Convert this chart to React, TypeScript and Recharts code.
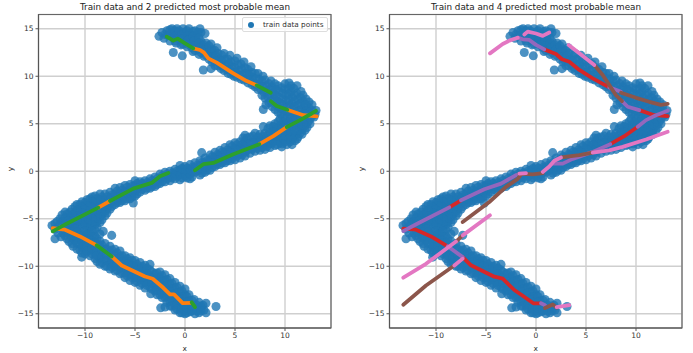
import { CartesianGrid, Legend, ReferenceArea, Scatter, ScatterChart, XAxis, YAxis, ZAxis } from 'recharts';

type Pt = [number, number];

const xTicks = [-10, -5, 0, 5, 10];
const yTicks = [-15, -10, -5, 0, 5, 10, 15];

// train data
const upperArm: Pt[] = [
  [-2.6,14.2],[-2.3,14.6],[-2.1,14.0],[-1.8,14.8],[-1.7,14.3],[-1.5,13.7],[-1.3,15],[-1.2,14.5],[-1.1,14.0],[-1.17,12.5],
  [-0.9,13.5],[-0.8,15],[-0.7,14.6],[-0.6,14.2],[-0.5,13.8],[-0.4,13.3],[-0.27,12.15],[-0.2,15],[-0.1,14.6],[0,14.1],
  [0.1,13.6],[0.2,13.1],[0.4,15],[0.5,14.5],[0.5,14],[0.6,13.5],[0.7,13],[0.8,12.6],[1,14.8],[1.1,14.3],
  [1.1,13.8],[1.2,13.3],[1.3,12.8],[1.4,12.3],[1.5,15],[1.6,14.6],[1.6,13.7],[1.7,13.2],[1.8,12.7],[1.9,12.1],
  [1.83,10.66],[2,14.5],[2.1,13.5],[2.2,13],[2.3,12.4],[2.4,11.8],[2.6,13.4],[2.7,12.8],[2.8,12.2],[2.9,11.6],
  [3,11.1],[2.6,10.8],[3.2,13],[3.3,12.4],[3.4,11.8],[3.5,11.3],[3.6,10.8],[3.9,12.4],[4,11.8],[4.1,11.2],
  [4.2,10.7],[4.3,10.3],[4.5,12.2],[4.6,11.5],[4.7,11],[4.8,10.4],[4.9,10],[5.2,11.9],[5.3,11.2],[5.4,10.6],
  [5.5,10.1],[5.6,9.7],[5.9,11.5],[6,10.9],[6.1,10.3],[6.2,9.8],[6.3,9.3],[6.6,11],[6.7,10.4],[6.8,9.9],
  [6.9,9.3],[7,8.9],[7.3,10.3],[7.4,9.7],[7.5,9.1],[7.6,8.6],[7.7,8],[7.8,10],[8,9.6],[8.1,9],
  [8.2,8.4],[8.3,7.8],[8.4,7.2],[8.6,9.5],[8.7,8.9],[8.8,8.3],[8.9,7.7],[9,7.1],[9,6.5],[9.3,9],
  [9.4,8.4],[9.4,7.8],[9.5,7.2],[9.6,6.6],[9.6,6],[10,9.2],[10,8.6],[10.1,8],[10.1,7.4],[10.2,6.8],
  [10.2,6.2],[10.6,9],[10.6,8.4],[10.7,7.8],[10.7,7.2],[10.8,6.6],[10.8,6],[11.2,9],[11.2,8.2],[11.3,7.6],
  [11.3,7],[11.4,6.4],[11.4,5.8],[11.8,8],[11.8,7.4],[11.9,6.8],[11.9,6.2],[12.4,7.3],[12.4,6.7],[12.5,6.1],
  [13,6],[13.1,6.4],[7.83,6.5],
];

const upperFill: Pt[] = [
  [-2,14.4],[-1.5,14.4],[-1.5,14.9],[-1,14.8],[-1,14.2],[-1,13.7],[-0.6,14.8],[-0.3,14.4],[-0.3,13.9],[-0.2,13.4],
  [0.2,14.8],[0.3,14.3],[0.3,13.8],[0.4,13.3],[0.8,14.7],[0.8,14.2],[0.9,13.7],[0.9,13.2],[1,12.7],[1.3,14.6],
  [1.4,14],[1.4,13.5],[1.5,13],[1.6,12.5],[1.9,13.3],[2,12.8],[2.1,12.2],[2.4,13.2],[2.5,12.6],[2.6,12],
  [2.7,11.5],[3,12.7],[3.1,12.1],[3.2,11.6],[3.3,11.1],[3.7,12.2],[3.7,11.6],[3.8,11],[3.9,10.6],[4.3,11.8],
  [4.4,11.3],[4.5,10.7],[4.6,10.2],[5,11.6],[5,10.9],[5.1,10.4],[5.2,9.9],[5.6,11.3],[5.7,10.7],[5.8,10.1],
  [5.9,9.6],[6.3,10.7],[6.4,10.1],[6.5,9.6],[6.7,9.1],[7,10.3],[7.1,9.7],[7.2,9.1],[7.3,8.6],[7.7,9.5],
  [7.8,8.9],[7.9,8.3],[8,7.7],[8.1,7],[8.4,9.2],[8.5,8.6],[8.5,8],[8.6,7.4],[8.7,6.8],[9,9.2],
  [9.1,8.6],[9.1,8],[9.2,7.4],[9.3,6.8],[9.3,6.2],[9.7,8.8],[9.8,8.2],[9.8,7.6],[9.9,7],[9.9,6.4],
  [9.9,5.8],[10.4,9.3],[10.4,8.7],[10.4,8.1],[10.4,7.5],[10.5,6.9],[10.5,6.3],[10.5,5.8],[10.9,8.7],[11,8],
  [11,7.4],[11,6.8],[11.1,6.2],[11.6,8.4],[11.6,7.7],[11.6,7.1],[11.7,6.5],[12.1,7.6],[12.1,7],[12.2,6.4],
  [12.7,7],[12.7,6.4],[12.8,5.9],
];

const middleArm: Pt[] = [
  [12.9,5.7],[12.5,5.5],[12.5,5],[12,6],[12,5.4],[12,4.8],[12,4.3],[11.5,5.8],[11.5,5.2],[11.5,4.6],
  [11.5,4],[11.3,3.6],[11,5.6],[11,5],[11,4.4],[11,3.8],[11,3.2],[10.5,5.5],[10.5,4.9],[10.5,4.3],
  [10.5,3.7],[10.5,3.1],[10,5.5],[10,4.9],[10,4.3],[10,3.7],[10,3.1],[9.67,2.56],[9.5,5.5],[9.5,4.8],
  [9.5,4.2],[9.5,3.6],[9.5,3],[9,5],[9,4.4],[9,3.8],[9,3.2],[9,2.7],[8.5,4.8],[8.5,4.1],
  [8.5,3.5],[8.5,2.9],[8.5,2.5],[7.83,4.7],[8,4],[8,3.4],[8,2.8],[8,2.3],[7.5,3.9],[7.5,3.3],
  [7.5,2.7],[7.5,2.2],[7,4],[7,3.3],[7,2.6],[7,2.1],[6.5,3.6],[6.5,3],[6.5,2.4],[6.5,1.9],
  [6,3.8],[6,3.2],[6,2.6],[6,2],[6,1.6],[5.5,3.1],[5.5,2.5],[5.5,1.9],[5.5,1.4],[5,3],
  [5,2.4],[5,1.8],[5,1.2],[4.5,2.8],[4.5,2.2],[4.5,1.6],[4.5,1.1],[4,2.5],[4,2],[4,1.4],
  [4,0.9],[3.5,2.2],[3.5,1.7],[3.5,1.2],[3.5,0.7],[3,2],[3,1.5],[3,1],[3,0.5],[2.5,1.7],
  [2.5,1.2],[2.5,0.7],[2.5,0.1],[2,1.4],[2,0.9],[2,0.4],[2,-0.1],[1.67,1.96],[1.5,1.1],[1.5,0.6],
  [1.5,0.1],[1.5,-0.4],[1,0.9],[1,0.4],[1,-0.1],[0.5,0.7],[0.5,0.2],[0.5,-0.3],[0.5,-0.8],[0,0.5],
  [0,0],[0,-0.5],[-0.5,0.6],[-0.5,0.1],[-0.5,-0.4],[-0.5,-0.9],[-1,0.2],[-1,-0.3],[-1,-0.8],[-1.5,0],
  [-1.5,-0.5],[-1.5,-1],[-2,-0.1],[-2,-0.6],[-2,-1.1],[-2.5,-0.3],[-2.5,-0.8],[-2.5,-1.3],[-3,-0.6],[-3,-1.1],
  [-3,-1.6],[-3.5,-0.8],[-3.5,-1.3],[-3.5,-1.8],[-4,-1],[-4,-1.5],[-4,-2],[-4.5,-1.1],[-4.5,-1.6],[-4.5,-2.2],
  [-5,-1],[-5,-1.5],[-5,-2.1],[-5,-2.6],[-5.17,-3.34],[-5.5,-1.4],[-5.5,-1.9],[-5.5,-2.4],[-5.5,-2.9],[-6,-1.5],
  [-6,-2.1],[-6,-2.6],[-6,-3.1],[-6.5,-1.7],[-6.5,-2.3],[-6.5,-2.8],[-6.5,-3.3],[-7,-1.8],[-7,-2.4],[-7,-3],
  [-7,-3.5],[-7.5,-2.2],[-7.5,-2.8],[-7.5,-3.4],[-7.5,-4],[-8,-2.4],[-8,-3],[-8,-3.6],[-8,-4.2],[-8,-4.7],
  [-8.5,-2.4],[-8.5,-3],[-8.5,-3.6],[-8.5,-4.2],[-8.5,-4.8],[-8.5,-5.4],[-9,-2.6],[-9,-3.2],[-9,-3.8],[-9,-4.4],
  [-9,-5],[-9,-5.6],[-9.5,-2.9],[-9.5,-3.5],[-9.5,-4.1],[-9.5,-4.7],[-9.5,-5.3],[-9.5,-5.9],[-10,-3.3],[-10,-3.9],
  [-10,-4.5],[-10,-5.1],[-10,-5.7],[-10.5,-3.5],[-10.5,-4.1],[-10.5,-4.7],[-10.5,-5.3],[-10.5,-5.9],[-11,-3.7],[-11,-4.3],
  [-11,-4.9],[-11,-5.5],[-11.5,-4.3],[-11.5,-4.9],[-11.5,-5.5],[-12,-4.3],[-12,-4.9],[-12,-5.5],[-12.5,-5],[-12.5,-5.6],
  [-13,-5.5],[-13.3,-5.7],[-13,-6.1],
];

const middleFill: Pt[] = [
  [12.3,5.2],[12.2,4.6],[11.8,5.6],[11.8,5],[11.7,4.4],[11.7,3.9],[11.3,5.4],[11.3,4.8],[11.2,4.2],[11.2,3.4],
  [10.8,5.3],[10.8,4.7],[10.7,4.1],[10.7,3.4],[10.7,2.8],[10.3,5.2],[10.3,4.6],[10.2,4],[10.2,3.4],[10.2,2.8],
  [9.8,5.2],[9.7,4.6],[9.7,4],[9.7,3.4],[9.7,2.9],[9.3,5.2],[9.2,4.5],[9.2,3.9],[9.2,3.3],[9.2,2.8],
  [8.8,4.7],[8.8,4.1],[8.7,3.5],[8.7,3],[8.3,4.5],[8.3,3.8],[8.2,3.2],[8.2,2.6],[7.8,3.7],[7.8,3.1],
  [7.7,2.5],[7.3,3.6],[7.2,3],[7.2,2.4],[6.8,3.7],[6.8,3],[6.7,2.3],[6.2,3.5],[6.2,2.9],[6.2,2.2],
  [5.8,3.5],[5.7,2.8],[5.7,2.2],[5.7,1.7],[5.2,2.8],[5.2,2.2],[5.2,1.6],[4.7,2.6],[4.7,1.9],[4.7,1.3],
  [4.2,2.2],[4.2,1.7],[4.2,1.1],[3.7,2],[3.7,1.4],[3.7,0.9],[3.2,1.7],[3.2,1.2],[3.2,0.7],[2.7,1.5],
  [2.7,0.9],[2.7,0.4],[2.2,1.1],[2.2,0.6],[2.2,0.1],[1.7,0.9],[1.7,0.3],[1.7,-0.2],[1.2,0.6],[1.2,0.1],
  [0.7,0.4],[0.7,-0.1],[0.7,-0.6],[0.2,0.3],[0.2,-0.2],[0.2,-0.7],[-0.3,0.3],[-0.3,-0.2],[-0.3,-0.7],[-0.8,0],
  [-0.8,-0.5],[-1.3,-0.2],[-1.3,-0.7],[-1.8,-0.3],[-1.8,-0.8],[-2.3,-0.5],[-2.3,-1.1],[-2.8,-0.8],[-2.8,-1.4],[-3.3,-1],
  [-3.3,-1.6],[-3.8,-1.2],[-3.8,-1.8],[-4.3,-1.3],[-4.3,-1.9],[-4.8,-1.3],[-4.8,-1.8],[-4.8,-2.4],[-5.3,-1.6],[-5.3,-2.2],
  [-5.3,-2.7],[-5.8,-1.7],[-5.8,-2.3],[-5.8,-2.9],[-6.3,-2],[-6.3,-2.5],[-6.3,-3.1],[-6.8,-2.1],[-6.8,-2.7],[-6.8,-3.3],
  [-7.3,-2.5],[-7.3,-3.1],[-7.3,-3.7],[-7.8,-2.7],[-7.8,-3.3],[-7.8,-3.9],[-7.8,-4.4],[-8.3,-2.7],[-8.3,-3.3],[-8.3,-3.9],
  [-8.3,-4.5],[-8.3,-5.1],[-8.8,-2.9],[-8.8,-3.5],[-8.8,-4.1],[-8.8,-4.7],[-8.8,-5.3],[-8.8,-5.9],[-9.3,-2.7],[-9.3,-3.2],
  [-9.3,-3.8],[-9.3,-4.4],[-9.3,-5],[-9.3,-5.6],[-9.8,-3],[-9.8,-3.6],[-9.8,-4.2],[-9.8,-4.8],[-9.8,-5.4],[-9.8,-6],
  [-10.3,-3.2],[-10.3,-3.8],[-10.3,-4.4],[-10.3,-5],[-10.3,-5.6],[-10.8,-3.5],[-10.8,-4.1],[-10.8,-4.7],[-10.8,-5.3],[-10.8,-5.9],
  [-11.3,-4],[-11.3,-4.6],[-11.3,-5.2],[-11.3,-5.8],[-11.8,-4.5],[-11.8,-5.2],[-11.8,-5.8],[-12.3,-4.6],[-12.3,-5.3],[-12.8,-5.3],
];

const lowerArm: Pt[] = [
  [-13,-7.1],[-12.7,-6.5],[-12.4,-6.9],[-12,-6.2],[-12,-6.8],[-11.6,-7.4],[-11.5,-6.1],[-11.5,-6.7],[-11.2,-7.9],[-11,-6.1],
  [-11,-6.7],[-11,-7.3],[-10.8,-8.2],[-10.5,-6.5],[-10.5,-7.1],[-10.5,-7.7],[-10.5,-8.3],[-10.33,-9.04],[-10,-6.3],[-10,-6.9],
  [-10,-7.5],[-10,-8.1],[-10,-8.7],[-9.5,-6.5],[-9.5,-7.1],[-9.5,-7.7],[-9.5,-8.3],[-9.5,-8.9],[-9,-6.2],[-9,-6.8],
  [-9,-7.4],[-9,-8],[-9,-8.6],[-9,-9.2],[-8.5,-6.6],[-8.5,-7.4],[-8.5,-8],[-8.5,-8.6],[-8.5,-9.2],[-8.5,-9.8],
  [-8.17,-6.33],[-8,-7.6],[-8,-8.2],[-8,-8.8],[-8,-9.4],[-8,-10],[-7.33,-6.75],[-7.5,-7.9],[-7.5,-8.5],[-7.5,-9.1],
  [-7.5,-9.7],[-7.5,-10.3],[-7,-8.2],[-7,-8.8],[-7,-9.4],[-7,-10],[-7,-10.5],[-6.5,-8.4],[-6.5,-9],[-6.5,-9.6],
  [-6.5,-10.2],[-6.5,-10.8],[-6,-8.9],[-6,-9.5],[-6,-10.1],[-6,-10.7],[-6,-11.2],[-5.5,-9.1],[-5.5,-9.7],[-5.5,-10.3],
  [-5.5,-10.9],[-5.5,-11.5],[-5,-9.4],[-5,-10],[-5,-10.6],[-5,-11.2],[-5,-11.7],[-4.5,-9.6],[-4.5,-10.2],[-4.5,-10.8],
  [-4.5,-11.4],[-4.5,-12],[-4,-9.9],[-4,-10.5],[-4,-11.1],[-4,-11.7],[-4,-12.3],[-3.5,-9.8],[-3.5,-10.4],[-3.5,-11],
  [-3.5,-11.6],[-3.5,-12.2],[-3.43,-12.9],[-3,-10.8],[-3,-11.4],[-3,-12],[-3,-12.6],[-2.5,-10.6],[-2.5,-11.2],[-2.5,-11.8],
  [-2.5,-12.4],[-2.5,-13],[-2.43,-14.38],[-2,-10.9],[-2,-11.5],[-2,-12.1],[-2,-12.7],[-2,-13.3],[-2,-14.3],[-1.5,-11.3],
  [-1.5,-11.9],[-1.5,-12.5],[-1.5,-13.1],[-1.5,-13.7],[-1.5,-14.2],[-1,-11.7],[-1,-12.3],[-1,-12.9],[-1,-13.5],[-1,-14.1],
  [-1,-14.6],[-0.5,-12.1],[-0.5,-12.7],[-0.5,-13.3],[-0.5,-13.9],[-0.5,-14.5],[-0.5,-14.9],[0,-12.4],[0,-13],[0,-13.6],
  [0,-14.2],[0,-14.7],[0,-15],[0.4,-13],[0.4,-13.6],[0.5,-14.2],[0.5,-14.8],[0.9,-13.5],[0.9,-14.1],[1,-14.6],
  [1,-15],[1.4,-13.8],[1.4,-14.4],[1.4,-14.9],[1.8,-14.1],[1.9,-14.6],[2.1,-14.9],[2.1,-13.9],[3.1,-14.24],
];

const lowerFill: Pt[] = [
  [-12.2,-6.5],[-11.8,-6.5],[-11.8,-7.1],[-11.3,-6.4],[-11.3,-7],[-11.3,-7.6],[-10.8,-6.4],[-10.8,-7],[-10.8,-7.6],[-10.3,-6.8],
  [-10.3,-7.4],[-10.3,-8],[-10.3,-8.6],[-9.8,-6.6],[-9.8,-7.2],[-9.8,-7.8],[-9.8,-8.4],[-9.3,-6.3],[-9.3,-6.9],[-9.3,-7.5],
  [-9.3,-8.1],[-9.3,-8.7],[-8.8,-7.1],[-8.8,-7.7],[-8.8,-8.3],[-8.8,-8.9],[-8.8,-9.5],[-8.3,-7.8],[-8.3,-8.4],[-8.3,-9],
  [-8.3,-9.6],[-7.8,-8.2],[-7.8,-8.8],[-7.8,-9.4],[-7.8,-10],[-7.3,-8.3],[-7.3,-8.9],[-7.3,-9.5],[-7.3,-10.1],[-6.8,-8.6],
  [-6.8,-9.2],[-6.8,-9.8],[-6.8,-10.4],[-6.3,-8.9],[-6.3,-9.5],[-6.3,-10.1],[-6.3,-10.7],[-5.8,-9.2],[-5.8,-9.8],[-5.8,-10.4],
  [-5.8,-11],[-5.3,-9.4],[-5.3,-10],[-5.3,-10.6],[-5.3,-11.2],[-4.8,-9.8],[-4.8,-10.4],[-4.8,-11],[-4.8,-11.6],[-4.3,-10],
  [-4.3,-10.6],[-4.3,-11.2],[-4.3,-11.8],[-3.8,-10.2],[-3.8,-10.8],[-3.8,-11.4],[-3.8,-12],[-3.3,-10.6],[-3.3,-11.2],[-3.3,-11.8],
  [-3.3,-12.4],[-2.8,-10.7],[-2.8,-11.3],[-2.8,-11.9],[-2.8,-12.5],[-2.8,-13],[-2.3,-11],[-2.3,-11.6],[-2.3,-12.2],[-2.3,-12.8],
  [-2.3,-13.3],[-1.8,-11.4],[-1.8,-12],[-1.8,-12.6],[-1.8,-13.2],[-1.8,-13.8],[-1.3,-11.8],[-1.3,-12.4],[-1.3,-13],[-1.3,-13.6],
  [-1.3,-14.2],[-0.8,-12.2],[-0.8,-12.8],[-0.8,-13.4],[-0.8,-14],[-0.8,-14.5],[-0.3,-12.6],[-0.3,-13.2],[-0.3,-13.8],[-0.3,-14.4],
  [-0.3,-14.9],[0.2,-13.2],[0.2,-13.8],[0.2,-14.4],[0.2,-14.9],[0.7,-13.6],[0.7,-14.2],[0.7,-14.7],[1.2,-14.1],[1.2,-14.7],
  [1.6,-14.2],[1.6,-14.7],
];

const trainPoints = [...upperArm, ...upperFill, ...middleArm, ...middleFill, ...lowerArm, ...lowerFill];

// most probable mean, 2 component model
const leftOrange: Pt[][] = [
  [[0.83,12.94],[1.5,12.76],[1.9,12.48],[2.33,11.88],[3.17,11.43],[4.83,10.3],[6.17,9.49],[7.17,9.04]],
  [[10.23,6.47],[11.83,5.9],[13.17,5.77]],
  [[10.17,4.64],[8.83,3.69],[7.43,2.85]],
  [[-7.5,-3.13],[-8.67,-3.83]],
  [[-13.23,-6],[-12,-6.15],[-10.5,-6.86],[-8.83,-7.8]],
  [[-7.33,-8.97],[-6.33,-9.92],[-4,-11.08],[-3.23,-11.32],[-2.17,-12.27],[-1.5,-12.97],[-1.1,-12.97],[-0.23,-13.89],[0.67,-13.85]],
];
const leftGreen: Pt[][] = [
  [[-1.83,14.17],[-1.17,13.75],[-0.73,13.96],[0,13.47],[0.83,12.94]],
  [[7.17,9.04],[8.57,8.26]],
  [[8.57,7.38],[9.17,6.86],[10.23,6.47]],
  [[13.1,6.36],[12.67,6.08],[11.5,5.38],[10.17,4.64]],
  [[7.43,2.85],[4.83,1.79],[2.83,0.88],[1.83,0.74],[1,0.1]],
  [[-1.67,-0.18],[-2.5,-0.53],[-3.33,-1.23],[-5.17,-1.83],[-7.5,-3.13]],
  [[-8.67,-3.83],[-11.83,-5.52],[-13.23,-6.33]],
  [[-8.83,-7.8],[-7.33,-8.97]],
  [[0.67,-13.8],[1,-14.3]],
];

// most probable mean, 4 component model
const rightRed: Pt[][] = [
  [[0.83,12.83],[1.67,12.48],[2,12.34],[2.6,11.79],[3.33,11.53],[4.33,10.66],[5.67,9.77],[7.33,8.83]],
  [[10.33,6.43],[11.83,5.9],[13.17,5.8]],
  [[10.17,4.68],[8.83,3.69],[7.43,2.85]],
  [[-7.5,-3.06],[-8.67,-3.8]],
  [[-13.27,-6.05],[-12,-6.15],[-10.5,-6.86],[-8.83,-7.9]],
  [[-7.33,-9.04],[-6.5,-9.9],[-4.17,-11.1],[-3.33,-11.3],[-2.17,-12.5],[-1.33,-13.1],[-0.27,-13.9],[0.5,-13.9]],
];
const rightPurple: Pt[][] = [
  [[-1.83,14.06],[-1.33,13.89],[-0.67,13.82],[0,13.3],[0.83,12.83]],
  [[7.33,8.83],[8.5,8.37]],
  [[8.6,7.38],[9.17,6.79],[10.33,6.43]],
  [[13.17,6.36],[12,5.9],[11,5.38],[10.17,4.68]],
  [[7.43,2.85],[5.67,2.04],[3.67,1.3],[2.67,0.8],[1.67,0.8]],
  [[-2,-0.4],[-3.5,-1.3],[-5.17,-1.9],[-7.5,-3.06]],
  [[-8.67,-3.8],[-11.83,-5.5],[-13.27,-6.3]],
  [[-8.83,-7.9],[-7.33,-9.04]],
  [[0.5,-13.9],[0.9,-14.1]],
];
const rightBrown: Pt[][] = [
  [[5.83,11.18],[6.67,10.13],[7.33,9.07],[8,8],[8.6,7.38]],
  [[8.5,8.26],[10,7.73],[11.33,7.31],[12.5,6.99],[13.17,7.1]],
  [[5.67,1.97],[4.33,1.69],[2.5,1.45]],
  [[0.67,-0.2],[-0.33,-0.32],[-1.67,-0.25]],
  [[-7.33,-5.35],[-4.67,-3.24],[-3,-1.65],[-1.83,-0.8],[-1.5,-0.35]],
  [[-7.33,-6.75],[-8,-7.4]],
  [[-13.27,-14.06],[-11,-12.03],[-8.17,-9.92]],
  [[0.9,-14.39],[1.67,-14.03],[2.07,-14.35]],
];
const rightPink: Pt[][] = [
  [[-4.6,12.41],[-3.33,13.4],[-2.67,13.75],[-1.83,14.06]],
  [[-1.17,14.4],[-0.83,14.7],[0,14.5],[0.67,14.25],[1.33,14.6]],
  [[3.27,13.3],[4.33,12.41],[5.83,11.18]],
  [[13.17,4.15],[11,3.34],[8.67,2.57],[7.33,2.2],[5.67,1.97]],
  [[2.5,1.45],[1.83,1.1],[1.33,0.5],[0.67,-0.07]],
  [[-1,-0.2],[-1.67,-0.25]],
  [[-4.6,-4.64],[-7.33,-6.75]],
  [[-8,-7.4],[-11,-9.74],[-13.27,-11.2]],
  [[-8.17,-9.92],[-7.33,-9.2]],
  [[2.07,-14.3],[3.33,-14.1]],
];

const toRows = (pts: Pt[]) => pts.map(([x, y]) => ({ x, y }));

const FONT = '"DejaVu Sans", sans-serif';
const W = 346;
const H = 353;

type Group = { color: string; segments: Pt[][] };

type PanelProps = {
  title: string;
  left: number;
  groups: Group[];
  showLegend?: boolean;
};

const Panel = ({ title, left, groups, showLegend }: PanelProps) => (
  <div style={{ position: 'absolute', left, top: 0 }}>
    <ScatterChart width={W} height={H} margin={{ top: 14.5, right: 15, bottom: 0, left: 0 }}>
      <CartesianGrid stroke="#cfcfcf" strokeWidth={1.4} />
      <XAxis
        type="number"
        dataKey="x"
        domain={[-14.65, 14.6]}
        ticks={xTicks}
        height={25}
        allowDataOverflow
        interval={0}
        stroke="#555"
        tickSize={3}
        tick={{ fontSize: 7.5, fill: '#333', fontFamily: FONT }}
        tickFormatter={(v) => String(v).replace('-', '\u2212')}
        label={{ value: 'x', position: 'insideBottom', offset: 2, fontSize: 7.5, fill: '#333', fontFamily: FONT }}
      />
      <YAxis
        type="number"
        dataKey="y"
        domain={[-16.5, 16.5]}
        ticks={yTicks}
        width={38.5}
        allowDataOverflow
        interval={0}
        stroke="#555"
        tickSize={3}
        tick={{ fontSize: 7.5, fill: '#333', fontFamily: FONT }}
        tickFormatter={(v) => String(v).replace('-', '\u2212')}
        label={{ value: 'y', angle: -90, position: 'insideLeft', offset: 10, fontSize: 7.5, fill: '#333', fontFamily: FONT }}
      />
      <ZAxis range={[25, 25]} />
      <ReferenceArea x1={-14.65} x2={14.6} y1={-16.5} y2={16.5} fill="none" stroke="#666" strokeWidth={1.2} ifOverflow="visible" />
      <Scatter
        name="train data points"
        data={toRows(trainPoints)}
        fill="#1f77b4"
        fillOpacity={0.8}
        legendType="circle"
        isAnimationActive={false}
      />
      {groups.flatMap((g, i) =>
        g.segments.map((seg, j) => (
          <Scatter
            key={`${i}-${j}`}
            data={toRows(seg)}
            line={{ stroke: g.color, strokeWidth: 3.8, strokeLinecap: 'round', strokeLinejoin: 'round' }}
            lineType="joint"
            shape={() => <g />}
            legendType="none"
            isAnimationActive={false}
          />
        ))
      )}
      {showLegend && (
        <Legend
          layout="vertical"
          align="center"
          verticalAlign="middle"
          iconSize={6}
          formatter={(value) => <span style={{ color: '#333', whiteSpace: 'nowrap', marginLeft: 5 }}>{value}</span>}
          wrapperStyle={{
            left: 242,
            top: 17,
            width: 86,
            height: 15,
            boxSizing: 'border-box',
            padding: '1px 0 0 5px',
            fontSize: 7.3,
            lineHeight: '12px',
            whiteSpace: 'nowrap',
            fontFamily: FONT,
            border: '1px solid #ddd',
            borderRadius: 2,
            background: 'rgba(255,255,255,0.8)',
          }}
        />
      )}
      <text x={185} y={10} textAnchor="middle" fontSize={8.8} fontFamily={FONT} fill="#222">
        {title}
      </text>
    </ScatterChart>
  </div>
);

export default function App() {
  return (
    <div style={{ position: 'absolute', left: 0, top: 0, width: 693, height: 353, background: '#fff', overflow: 'hidden' }}>
      <Panel
        title="Train data and 2 predicted most probable mean"
        left={0}
        showLegend
        groups={[
          { color: '#ff7f0e', segments: leftOrange },
          { color: '#2ca02c', segments: leftGreen },
        ]}
      />
      <Panel
        title="Train data and 4 predicted most probable mean"
        left={351}
        groups={[
          { color: '#d62728', segments: rightRed },
          { color: '#9467bd', segments: rightPurple },
          { color: '#8c564b', segments: rightBrown },
          { color: '#e377c2', segments: rightPink },
        ]}
      />
    </div>
  );
}
